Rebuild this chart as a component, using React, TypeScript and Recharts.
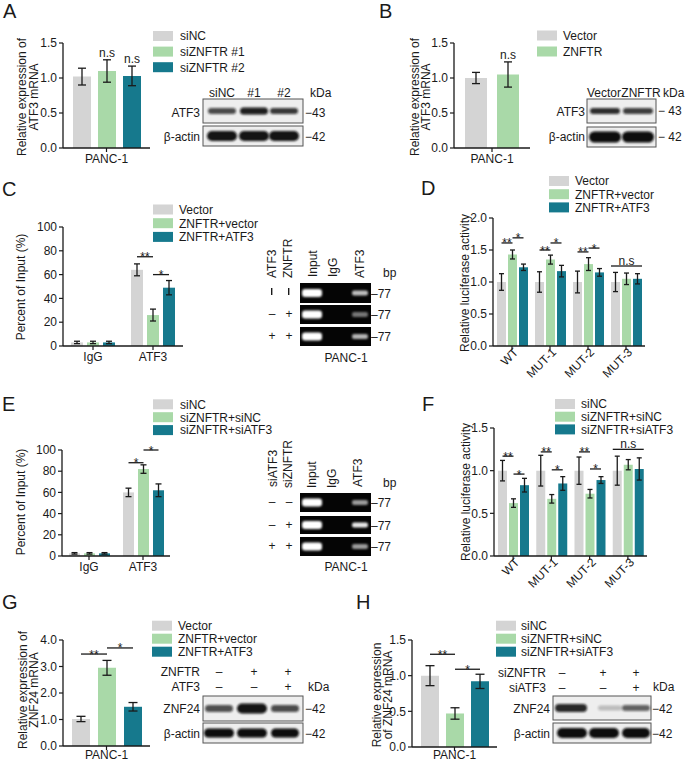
import React from 'react';
import { BarChart, Bar, XAxis, YAxis, ErrorBar, Rectangle } from 'recharts';

const FONT = '"Liberation Sans", Arial, Helvetica, sans-serif';
const INK = '#1a1a1a';
const GREY = '#d4d4d4';
const GREEN = '#a9d9a8';
const TEAL = '#16798d';
const COLORS = [GREY, GREEN, TEAL];

// ---------- Panel A ----------
const A_CATS = ['PANC-1'];
const A_NAMES = ['siNC', 'siZNFTR #1', 'siZNFTR #2'];
const A_MEAN = [[1.02], [1.10], [1.03]];
const A_ERR = [[0.12], [0.16], [0.14]];
const A_TICKS = [0, 0.5, 1.0, 1.5];
const A_LANES = ['siNC', '#1', '#2'];

// ---------- Panel B ----------
const B_CATS = ['PANC-1'];
const B_NAMES = ['Vector', 'ZNFTR'];
const B_MEAN = [[1.0], [1.05]];
const B_ERR = [[0.08], [0.18]];
const B_TICKS = [0, 0.5, 1.0, 1.5];
const B_LANES = ['Vector', 'ZNFTR'];

// ---------- Panel C ----------
const C_CATS = ['IgG', 'ATF3'];
const C_NAMES = ['Vector', 'ZNFTR+vector', 'ZNFTR+ATF3'];
const C_MEAN = [[3, 64], [3, 26], [3, 49]];
const C_ERR = [[1, 5], [1, 5], [1, 6]];
const C_TICKS = [0, 20, 40, 60, 80, 100];

// ---------- Panel D ----------
const D_CATS = ['WT', 'MUT-1', 'MUT-2', 'MUT-3'];
const D_NAMES = ['Vector', 'ZNFTR+vector', 'ZNFTR+ATF3'];
const D_MEAN = [[1, 1, 1, 1], [1.43, 1.35, 1.28, 1.05], [1.23, 1.17, 1.15, 1.05]];
const D_ERR = [[0.13, 0.16, 0.17, 0.15], [0.07, 0.07, 0.10, 0.09], [0.05, 0.09, 0.06, 0.08]];
const D_TICKS = [0, 0.5, 1.0, 1.5, 2.0];

// ---------- Panel E ----------
const E_CATS = ['IgG', 'ATF3'];
const E_NAMES = ['siNC', 'siZNFTR+siNC', 'siZNFTR+siATF3'];
const E_MEAN = [[2.5, 60], [2.5, 82], [2.5, 62]];
const E_ERR = [[0.7, 4], [0.7, 4], [0.7, 6]];
const E_TICKS = [0, 20, 40, 60, 80, 100];

// ---------- Panel F ----------
const F_CATS = ['WT', 'MUT-1', 'MUT-2', 'MUT-3'];
const F_NAMES = ['siNC', 'siZNFTR+siNC', 'siZNFTR+siATF3'];
const F_MEAN = [[1, 1, 1, 1], [0.62, 0.67, 0.73, 1.07], [0.83, 0.85, 0.89, 1.02]];
const F_ERR = [[0.12, 0.18, 0.16, 0.17], [0.05, 0.05, 0.05, 0.06], [0.08, 0.08, 0.04, 0.13]];
const F_TICKS = [0, 0.5, 1.0, 1.5];

// ---------- Panel G ----------
const G_CATS = ['PANC-1'];
const G_NAMES = ['Vector', 'ZNFTR+vector', 'ZNFTR+ATF3'];
const G_MEAN = [[1.02], [2.95], [1.48]];
const G_ERR = [[0.10], [0.28], [0.16]];
const G_TICKS = [0, 1, 2, 3, 4];

// ---------- Panel H ----------
const H_CATS = ['PANC-1'];
const H_NAMES = ['siNC', 'siZNFTR+siNC', 'siZNFTR+siATF3'];
const H_MEAN = [[1.0], [0.47], [0.92]];
const H_ERR = [[0.14], [0.08], [0.10]];
const H_TICKS = [0, 0.5, 1.0, 1.5];

// significance annotations: [category, fromSeries, toSeries, level, text, kind]
// kind: 'line' = bar between centers, 'span' = bar over whole group, 'none' = text only
type Sig = [number, number, number, number, string, string];
const A_SIG: Sig[] = [[0, 1, 1, 1.26, 'n.s', 'none'], [0, 2, 2, 1.17, 'n.s', 'none']];
const B_SIG: Sig[] = [[0, 1, 1, 1.23, 'n.s', 'none']];
const C_SIG: Sig[] = [[1, 0, 1, 75, '**', 'line'], [1, 1, 2, 60, '*', 'line']];
const D_SIG: Sig[] = [
  [0, 0, 1, 1.61, '**', 'line'], [0, 1, 2, 1.69, '*', 'line'],
  [1, 0, 1, 1.50, '**', 'line'], [1, 1, 2, 1.61, '*', 'line'],
  [2, 0, 1, 1.47, '**', 'line'], [2, 1, 2, 1.53, '*', 'line'],
  [3, 0, 2, 1.25, 'n.s', 'span'],
];
const E_SIG: Sig[] = [[1, 0, 1, 88, '*', 'line'], [1, 1, 2, 100, '*', 'line']];
const F_SIG: Sig[] = [
  [0, 0, 1, 1.17, '**', 'line'], [0, 1, 2, 0.96, '*', 'line'],
  [1, 0, 1, 1.22, '**', 'line'], [1, 1, 2, 1.01, '*', 'line'],
  [2, 0, 1, 1.22, '**', 'line'], [2, 1, 2, 1.02, '*', 'line'],
  [3, 0, 2, 1.25, 'n.s', 'span'],
];
const G_SIG: Sig[] = [[0, 0, 1, 3.47, '**', 'line'], [0, 1, 2, 3.7, '*', 'line']];
const H_SIG: Sig[] = [[0, 0, 1, 1.30, '**', 'line'], [0, 1, 2, 1.09, '*', 'line']];

interface PanelProps {
  plotLeft: number; plotTop: number; plotW: number; plotH: number;
  domain: [number, number]; ticks: number[]; decimals: number;
  categories: string[]; names: string[]; means: number[][]; errs: number[][];
  barSize: number; barGap: number; capW: number; sigs: Sig[]; rotateX?: boolean; xTickMargin?: number;
}

const RotTick = (props: any) => {
  const { x, y, payload } = props;
  const ax = x + 7;
  const ay = y + 1;
  return (
    <text x={ax} y={ay} transform={`rotate(-45 ${ax} ${ay})`} textAnchor="end" fontSize={12} fill={INK} fontFamily={FONT}>
      {payload.value}
    </text>
  );
};

function BarPanel(p: PanelProps) {
  const ML = 45, MT = 24, MR = 10;
  const XH = p.rotateX ? 44 : 22;
  const width = ML + p.plotW + MR;
  const height = MT + p.plotH + XH;
  const data = p.categories.map((c, i) => {
    const row: any = { cat: c };
    p.names.forEach((_, k) => { row['v' + k] = p.means[k][i]; row['e' + k] = p.errs[k][i]; });
    return row;
  });
  const step = p.barSize + p.barGap;
  const shape0 = (sp: any) => {
    const { x, y, width: w, height: h } = sp;
    let index = sp.index;
    if (index === undefined) index = data.findIndex((d) => d.cat === sp.payload?.cat);
    const v = sp.payload ? sp.payload.v0 : p.means[0][index];
    const ppu = h / v;
    const base = y + h;
    const yOf = (val: number) => base - val * ppu;
    const cx = (k: number) => x + k * step + w / 2;
    const marks = p.sigs.filter((s) => s[0] === index).map((s, j) => {
      const [, from, to, level, text, kind] = s;
      const ly = yOf(level);
      if (kind === 'none') {
        return (
          <text key={j} x={cx(from)} y={ly - 3} textAnchor="middle" fontSize={12} fill={INK} fontFamily={FONT}>{text}</text>
        );
      }
      const x1 = kind === 'span' ? x + from * step : cx(from);
      const x2 = kind === 'span' ? x + to * step + w : cx(to);
      const isStar = text.indexOf('*') >= 0;
      return (
        <g key={j}>
          <line x1={x1} x2={x2} y1={ly} y2={ly} stroke={INK} strokeWidth={1.3} />
          <text x={(x1 + x2) / 2} y={isStar ? ly + 4.5 : ly - 1} textAnchor="middle" fontSize={12} fill={INK} fontFamily={FONT}>{text}</text>
        </g>
      );
    });
    return (
      <g>
        <Rectangle x={x} y={y} width={w} height={h} fill={COLORS[0]} />
        {marks}
      </g>
    );
  };
  return (
    <div style={{ position: 'absolute', left: p.plotLeft - ML, top: p.plotTop - MT }}>
      <BarChart width={width} height={height} data={data} margin={{ top: MT, right: MR, left: 0, bottom: 0 }} barSize={p.barSize} barGap={p.barGap}>
        <XAxis
          dataKey="cat"
          height={XH}
          interval={0}
          tickSize={4}
          tickMargin={p.xTickMargin ?? 2}
          axisLine={{ stroke: INK, strokeWidth: 1.3 }}
          tickLine={{ stroke: INK, strokeWidth: 1.2 }}
          tick={p.rotateX ? <RotTick /> : { fontSize: 12, fill: INK, fontFamily: FONT }}
        />
        <YAxis
          width={ML}
          domain={p.domain}
          ticks={p.ticks}
          interval={0}
          tickSize={4}
          tickMargin={2}
          axisLine={{ stroke: INK, strokeWidth: 1.3 }}
          tickLine={{ stroke: INK, strokeWidth: 1.2 }}
          tick={{ fontSize: 12, fill: INK, fontFamily: FONT }}
          tickFormatter={(v: number) => v.toFixed(p.decimals)}
        />
        {p.names.map((n, k) => (
          <Bar key={n} name={n} dataKey={'v' + k} fill={COLORS[k]} isAnimationActive={false} shape={k === 0 ? shape0 : undefined}>
            <ErrorBar dataKey={'e' + k} width={p.capW} stroke={INK} strokeWidth={1.3} direction="y" />
          </Bar>
        ))}
      </BarChart>
    </div>
  );
}

function Legend({ x, y, step, textX, names }: { x: number; y: number; step: number; textX: number; names: string[] }) {
  return (
    <g>
      {names.map((n, i) => (
        <g key={n}>
          <rect x={x} y={y + i * step} width={20} height={10} fill={COLORS[i]} />
          <text x={textX} y={y + i * step + 9.3} fontSize={12} fill={INK}>{n}</text>
        </g>
      ))}
    </g>
  );
}

function YLabel({ x, cy, lines }: { x: number[]; cy: number; lines: string[] }) {
  return (
    <g>
      {lines.map((l, i) => (
        <text key={i} x={x[i]} y={cy} transform={`rotate(-90 ${x[i]} ${cy})`} textAnchor="middle" fontSize={12} fill={INK}>{l}</text>
      ))}
    </g>
  );
}

type Band = [number, number, number, number]; // cx, w, h, opacity
function WBox({ x, y, w, h, bands }: { x: number; y: number; w: number; h: number; bands: Band[] }) {
  return (
    <g>
      <rect x={x} y={y} width={w} height={h} fill="#eeeeee" stroke="#555" strokeWidth={1} />
      {bands.map((b, i) => (
        <rect key={i} x={b[0] - b[1] / 2} y={y + h / 2 - b[2] / 2} width={b[1]} height={b[2]} rx={b[2] / 2} fill="#0d0d0d" opacity={b[3]} filter="url(#blurB)" />
      ))}
    </g>
  );
}

function GelRow({ y, h, input, atf3 }: { y: number; h: number; input: number; atf3: number }) {
  return (
    <g>
      <rect x={300} y={y} width={71} height={h} fill="#050505" />
      <rect x={302} y={y + h / 2 - 4} width={20} height={8} rx={3} fill="#fff" opacity={input} filter="url(#blurG)" />
      <rect x={352} y={y + h / 2 - 2.5} width={16} height={5} rx={2} fill="#fff" opacity={atf3} filter="url(#blurG)" />
      <text x={371} y={y + h / 2 + 4.5} fontSize={12} fill={INK}>–77</text>
    </g>
  );
}

function RotText({ x, y, s }: { x: number; y: number; s: string }) {
  return <text x={x} y={y} transform={`rotate(-90 ${x} ${y})`} fontSize={12} fill={INK}>{s}</text>;
}

function Overlay() {
  const T = (x: number, y: number, s: string, anchor: string = 'start', size = 12) => (
    <text x={x} y={y} textAnchor={anchor as any} fontSize={size} fill={INK}>{s}</text>
  );
  const L = (x: number, y: number, s: string) => T(x, y, s, 'start', 20);
  return (
    <svg width={685} height={761} style={{ position: 'absolute', left: 0, top: 0, pointerEvents: 'none', fontFamily: FONT }}>
      <defs>
        <filter id="blurB" x="-30%" y="-80%" width="160%" height="260%"><feGaussianBlur stdDeviation="1.3" /></filter>
        <filter id="blurG" x="-30%" y="-80%" width="160%" height="260%"><feGaussianBlur stdDeviation="1" /></filter>
      </defs>
      {/* panel letters */}
      {L(3, 18, 'A')}{L(379, 18, 'B')}{L(2, 196, 'C')}{L(421, 195, 'D')}
      {L(2, 411, 'E')}{L(422, 411, 'F')}{L(2, 609, 'G')}{L(356, 609, 'H')}

      {/* legends */}
      <Legend x={153} y={31} step={15.6} textX={180} names={A_NAMES} />
      <Legend x={537} y={30.5} step={16} textX={563} names={B_NAMES} />
      <Legend x={153} y={204.5} step={13.7} textX={179} names={C_NAMES} />
      <Legend x={549} y={176} step={13.2} textX={575} names={D_NAMES} />
      <Legend x={153} y={399.3} step={12.9} textX={180} names={E_NAMES} />
      <Legend x={555} y={399} step={12.7} textX={581} names={F_NAMES} />
      <Legend x={152} y={620.7} step={13} textX={178} names={G_NAMES} />
      <Legend x={496} y={620.7} step={13} textX={521} names={H_NAMES} />

      {/* y-axis titles */}
      <YLabel x={[26, 38]} cy={97} lines={['Relative expression of', 'ATF3 mRNA']} />
      <YLabel x={[419, 430]} cy={97} lines={['Relative expression of', 'ATF3 mRNA']} />
      <YLabel x={[25]} cy={287} lines={['Percent of Input (%)']} />
      <YLabel x={[469]} cy={283} lines={['Relative luciferase activity']} />
      <YLabel x={[25]} cy={502} lines={['Percent of Input (%)']} />
      <YLabel x={[470]} cy={492} lines={['Relative luciferase activity']} />
      <YLabel x={[26.5, 37.5]} cy={690} lines={['Relative expression of', 'ZNF24 mRNA']} />
      <YLabel x={[381, 392]} cy={695} lines={['Relative expression', 'of ZNF24 mRNA']} />

      {/* Blot A */}
      {A_LANES.map((s, i) => <g key={s}>{T([222, 254, 284][i], 97, s, 'middle')}</g>)}
      {T(310, 97, 'kDa')}
      {T(200, 117, 'ATF3', 'end')}
      {T(200, 141, 'β-actin', 'end')}
      <WBox x={203} y={99} w={100} h={24} bands={[[222, 28, 6, 0.72], [254, 28, 7, 0.92], [284, 28, 6, 0.8]]} />
      <WBox x={203} y={126} w={100} h={20} bands={[[222, 30, 10, 0.97], [254, 30, 10, 0.97], [284, 30, 10, 0.97]]} />
      {T(305, 117, '−43')}
      {T(305, 141, '−42')}

      {/* Blot B */}
      {B_LANES.map((s, i) => <g key={s}>{T([604, 641][i], 97, s, 'middle')}</g>)}
      {T(663, 97, 'kDa')}
      {T(585, 116, 'ATF3', 'end')}
      {T(585, 141, 'β-actin', 'end')}
      <WBox x={587} y={99} w={69} h={24} bands={[[605, 30, 6, 0.85], [638, 30, 6, 0.78]]} />
      <WBox x={587} y={127} w={69} h={20} bands={[[605, 32, 11, 1], [638, 32, 11, 1]]} />
      {T(658, 115, '− 43')}
      {T(658, 141, '− 42')}

      {/* Gel C */}
      <RotText x={276} y={278} s="ATF3" />
      <RotText x={292} y={278} s="ZNFTR" />
      <RotText x={317} y={277} s="Input" />
      <RotText x={337} y={277} s="IgG" />
      <RotText x={364} y={278} s="ATF3" />
      {T(383, 277, 'bp')}
      <rect x={271} y={288} width={1.4} height={7} fill={INK} />
      <rect x={288} y={288} width={1.4} height={7} fill={INK} />
      {T(272, 318, '–', 'middle')}{T(289, 318, '+', 'middle')}
      {T(272, 340, '+', 'middle')}{T(289, 340, '+', 'middle')}
      <GelRow y={283} h={20} input={1} atf3={0.75} />
      <GelRow y={305} h={19} input={1} atf3={0.45} />
      <GelRow y={327} h={19} input={1} atf3={0.7} />
      {T(346, 362, 'PANC-1', 'middle')}

      {/* Gel E */}
      <RotText x={277} y={487} s="siATF3" />
      <RotText x={292} y={488} s="siZNFTR" />
      <RotText x={316} y={488} s="Input" />
      <RotText x={336} y={488} s="IgG" />
      <RotText x={362} y={487} s="ATF3" />
      {T(383, 487, 'bp')}
      {T(272, 506, '–', 'middle')}{T(289, 506, '–', 'middle')}
      {T(272, 529, '–', 'middle')}{T(289, 529, '+', 'middle')}
      {T(272, 550, '+', 'middle')}{T(289, 550, '+', 'middle')}
      <GelRow y={493} h={19} input={1} atf3={0.6} />
      <GelRow y={516} h={18} input={1} atf3={0.92} />
      <GelRow y={537} h={19} input={1} atf3={0.6} />
      {T(346, 571, 'PANC-1', 'middle')}

      {/* Blot G */}
      {T(200, 676, 'ZNFTR', 'end')}
      {T(200, 691, 'ATF3', 'end')}
      {T(219, 676, '–', 'middle')}{T(254, 676, '+', 'middle')}{T(288, 676, '+', 'middle')}
      {T(219, 691, '–', 'middle')}{T(254, 691, '–', 'middle')}{T(288, 691, '+', 'middle')}
      {T(308, 691, 'kDa')}
      {T(200, 713, 'ZNF24', 'end')}
      {T(200, 738, 'β-actin', 'end')}
      <WBox x={203} y={696} w={100} h={25} bands={[[219, 28, 7, 0.7], [252, 30, 10, 0.97], [285, 28, 7, 0.72]]} />
      <WBox x={203} y={723} w={100} h={20} bands={[[219, 30, 9, 1], [252, 30, 9, 1], [285, 28, 9, 1]]} />
      {T(305, 713, '−42')}
      {T(305, 738, '−42')}

      {/* Blot H */}
      {T(546, 677, 'siZNFTR', 'end')}
      {T(546, 692, 'siATF3', 'end')}
      {T(562, 677, '–', 'middle')}{T(603, 677, '+', 'middle')}{T(636, 677, '+', 'middle')}
      {T(562, 692, '–', 'middle')}{T(603, 692, '–', 'middle')}{T(636, 692, '+', 'middle')}
      {T(653, 691, 'kDa')}
      {T(550, 713, 'ZNF24', 'end')}
      {T(550, 738, 'β-actin', 'end')}
      <WBox x={553} y={696} w={98} h={24} bands={[[571, 32, 8, 0.88], [610, 24, 5, 0.22], [636, 28, 6, 0.62]]} />
      <WBox x={553} y={723} w={98} h={20} bands={[[572, 30, 10, 1], [604, 30, 10, 1], [636, 28, 10, 1]]} />
      {T(652, 713, '−42')}
      {T(652, 738, '−42')}
    </svg>
  );
}

export default function App() {
  return (
    <div style={{ position: 'absolute', left: 0, top: 0, width: 685, height: 761, background: '#fff', fontFamily: FONT, overflow: 'hidden' }}>
      <BarPanel plotLeft={63} plotTop={43} plotW={87} plotH={105} domain={[0, 1.5]} ticks={A_TICKS} decimals={1}
        categories={A_CATS} names={A_NAMES} means={A_MEAN} errs={A_ERR} barSize={18} barGap={7} capW={4} sigs={A_SIG} />
      <BarPanel plotLeft={454} plotTop={43} plotW={76} plotH={105} domain={[0, 1.5]} ticks={B_TICKS} decimals={1}
        categories={B_CATS} names={B_NAMES} means={B_MEAN} errs={B_ERR} barSize={22} barGap={10} capW={4} sigs={B_SIG} />
      <BarPanel plotLeft={63} plotTop={227} plotW={120} plotH={119} domain={[0, 100]} ticks={C_TICKS} decimals={0}
        categories={C_CATS} names={C_NAMES} means={C_MEAN} errs={C_ERR} barSize={12} barGap={4} capW={3} sigs={C_SIG} />
      <BarPanel plotLeft={493} plotTop={218} plotW={152} plotH={128} domain={[0, 2]} ticks={D_TICKS} decimals={1}
        categories={D_CATS} names={D_NAMES} means={D_MEAN} errs={D_ERR} barSize={9} barGap={2} capW={2.5} sigs={D_SIG} rotateX />
      <BarPanel plotLeft={62} plotTop={450} plotW={108} plotH={106} domain={[0, 100]} ticks={E_TICKS} decimals={0}
        categories={E_CATS} names={E_NAMES} means={E_MEAN} errs={E_ERR} barSize={11} barGap={4} capW={3} sigs={E_SIG} />
      <BarPanel plotLeft={494} plotTop={428} plotW={153} plotH={128} domain={[0, 1.5]} ticks={F_TICKS} decimals={1}
        categories={F_CATS} names={F_NAMES} means={F_MEAN} errs={F_ERR} barSize={9} barGap={2} capW={2.5} sigs={F_SIG} rotateX />
      <BarPanel plotLeft={63} plotTop={640} plotW={87} plotH={106} domain={[0, 4]} ticks={G_TICKS} decimals={1} xTickMargin={0}
        categories={G_CATS} names={G_NAMES} means={G_MEAN} errs={G_ERR} barSize={18} barGap={8} capW={4.5} sigs={G_SIG} />
      <BarPanel plotLeft={412} plotTop={640} plotW={85} plotH={107} domain={[0, 1.5]} ticks={H_TICKS} decimals={1} xTickMargin={-1}
        categories={H_CATS} names={H_NAMES} means={H_MEAN} errs={H_ERR} barSize={18} barGap={7} capW={4.5} sigs={H_SIG} />
      <Overlay />
    </div>
  );
}
